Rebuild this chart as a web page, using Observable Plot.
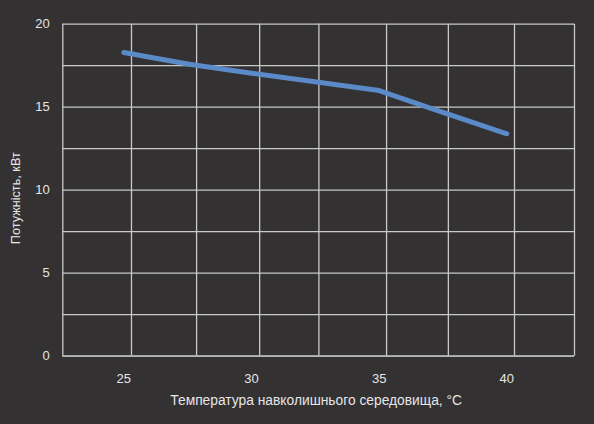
<!DOCTYPE html>
<html>
<head>
<meta charset="utf-8">
<script src="https://cdn.jsdelivr.net/npm/d3@7"></script>
<script src="https://cdn.jsdelivr.net/npm/@observablehq/plot@0.6"></script>
<style>
  html, body { margin: 0; padding: 0; background: #333132; }
  #chart svg { display: block; }
</style>
</head>
<body>
<div id="chart"></div>
<script>
const temperatures = [25, 27.5, 30, 35, 37, 40];
const power = [18.3, 17.6, 17.05, 16.0, 14.95, 13.4];
const xTicks = [25, 30, 35, 40];
const yTicks = [0, 5, 10, 15, 20];
const xGrid = [22.61, 25.3, 27.85, 30.32, 32.64, 35.29, 37.71, 40.3, 42.65];
const yGrid = [0, 2.5, 5, 7.5, 10, 12.5, 15, 17.5, 20];
const xLabel = "Температура навколишнього середовища, °C";
const yLabel = "Потужність, кВт";

const data = temperatures.map((t, i) => ({t, p: power[i]}));

const chart = Plot.plot({
  width: 594,
  height: 424,
  marginLeft: 62.3,
  marginRight: 20,
  marginTop: 23.7,
  marginBottom: 68.3,
  style: {background: "#333132", color: "#e6e6e6", fontFamily: "'Liberation Sans', Arial, sans-serif", fontSize: "13px"},
  x: {domain: [22.61, 42.65]},
  y: {domain: [0, 20]},
  marks: [
    Plot.ruleX(xGrid, {stroke: "#c9c9c9", strokeWidth: 1.3}),
    Plot.ruleY(yGrid, {stroke: "#c9c9c9", strokeWidth: 1.3}),
    Plot.ruleY([0], {stroke: "#b5b5b5", strokeWidth: 1.8}),
    Plot.axisX({ticks: xTicks, tickSize: 0, tickPadding: 18, label: null, fontSize: 13, fill: "#e6e6e6"}),
    Plot.axisY({ticks: yTicks, tickSize: 0, tickPadding: 13, label: null, fontSize: 13, fill: "#e6e6e6"}),
    Plot.line(data, {x: "t", y: "p", stroke: "#5b8ac8", strokeWidth: 5}),
    Plot.text([xLabel], {frameAnchor: "bottom", textAnchor: "middle", dy: 44, dx: -2.5, lineAnchor: "middle", fill: "#e6e6e6", fontSize: 13.8}),
    Plot.text([yLabel], {frameAnchor: "left", textAnchor: "middle", dx: -47, dy: 8, rotate: -90, lineAnchor: "middle", fill: "#e6e6e6", fontSize: 12.7})
  ]
});
document.getElementById("chart").append(chart);
</script>
</body>
</html>
